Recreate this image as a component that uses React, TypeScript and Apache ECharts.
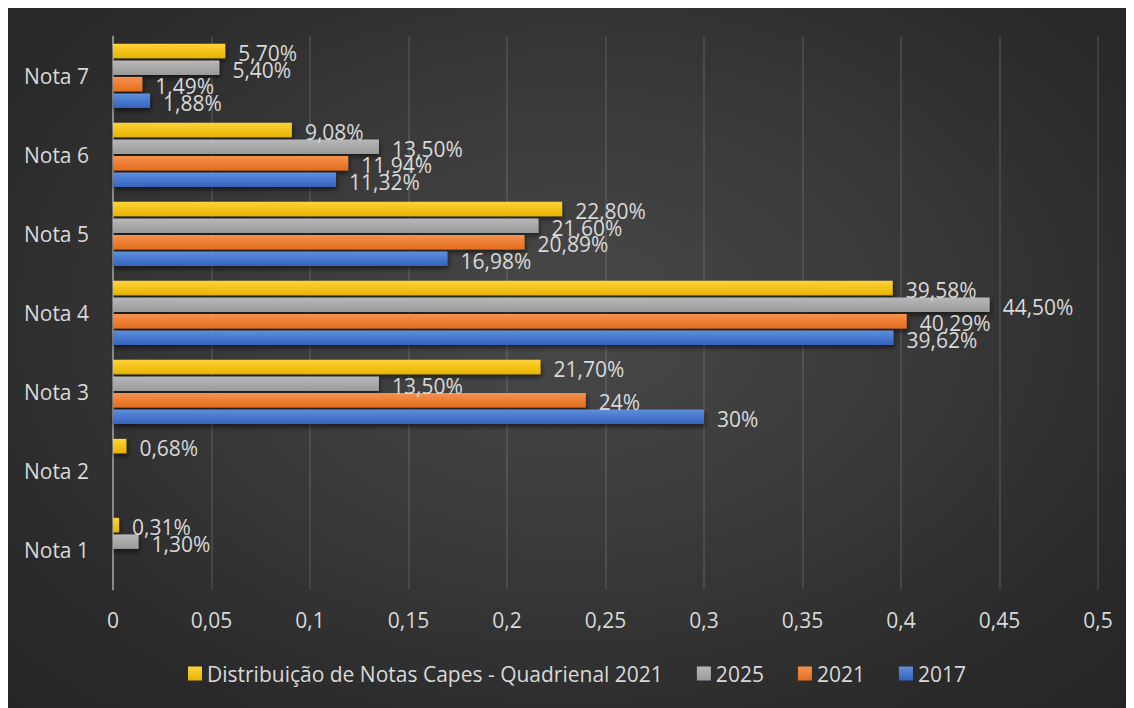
import React, { useEffect, useRef } from "react";
import * as echarts from "echarts";

const categories = ["Nota 1", "Nota 2", "Nota 3", "Nota 4", "Nota 5", "Nota 6", "Nota 7"];
const xTicks = [0, 0.05, 0.1, 0.15, 0.2, 0.25, 0.3, 0.35, 0.4, 0.45, 0.5];

const seriesNames = ["Distribuição de Notas Capes - Quadrienal 2021", "2025", "2021", "2017"];
const valuesDist = [0.0031, 0.0068, 0.217, 0.3958, 0.228, 0.0908, 0.057];
const values2025 = [0.013, null, 0.135, 0.445, 0.216, 0.135, 0.054];
const values2021 = [null, null, 0.24, 0.4029, 0.2089, 0.1194, 0.0149];
const values2017 = [null, null, 0.3, 0.3962, 0.1698, 0.1132, 0.0188];
// whether labels keep trailing zeros (fixed two decimals)
const fixedDecimals = [true, true, false, false];

const FONT = "'Open Sans', 'Noto Sans', sans-serif";
const TEXT = "#d9d9d9";
const FS = 21;

function grad(top: string, bottom: string) {
  return new echarts.graphic.LinearGradient(0, 0, 0, 1, [
    { offset: 0, color: top },
    { offset: 1, color: bottom },
  ]);
}

const colors = [
  ["#ffd23a", "#e6b400"],
  ["#b8b8b8", "#9a9a9a"],
  ["#f69250", "#e46d1e"],
  ["#5f8fdc", "#3462be"],
];

function fmtPct(v: number, fixed: boolean) {
  const p = v * 100;
  const s = fixed ? p.toFixed(2) : String(parseFloat(p.toFixed(2)));
  return s.replace(".", ",") + "%";
}

export default function App() {
  const ref = useRef<HTMLDivElement>(null);
  useEffect(() => {
    if (!ref.current) return;
    const chart = echarts.init(ref.current, undefined, { renderer: "svg" });
    const allValues = [valuesDist, values2025, values2021, values2017];
    chart.setOption({
      animation: false,
      backgroundColor: "transparent",
      textStyle: { fontFamily: FONT },
      grid: { left: 106, right: 36, top: 29.4, bottom: 118.6, outerBoundsMode: "none", containLabel: false },
      legend: {
        data: seriesNames,
        left: 176,
        top: 651,
        itemWidth: 14,
        itemHeight: 14,
        itemGap: 34,
        icon: "rect",
        textStyle: { color: TEXT, fontSize: FS, fontFamily: FONT },
      },
      xAxis: {
        type: "value",
        min: xTicks[0],
        max: xTicks[xTicks.length - 1],
        interval: 0.05,
        axisLine: { show: false },
        axisTick: { show: false },
        splitLine: { show: true, lineStyle: { color: "rgba(255,255,255,0.1)", width: 2 } },
        axisLabel: {
          color: TEXT,
          fontSize: FS,
          fontFamily: FONT,
          margin: 20,
          formatter: (v: number) => String(parseFloat(v.toFixed(2))).replace(".", ","),
        },
      },
      yAxis: {
        type: "category",
        data: categories,
        axisLine: { show: true, lineStyle: { color: "#8a8a8a", width: 2 } },
        axisTick: { show: false },
        axisLabel: { color: TEXT, fontSize: FS, fontFamily: FONT, margin: 24 },
      },
      series: seriesNames.map((name, i) => ({
        name,
        type: "bar",
        data: allValues[i],
        barWidth: 14.5,
        barGap: "14%",
        itemStyle: {
          color: grad(colors[i][0], colors[i][1]),
          shadowBlur: 5,
          shadowOffsetY: 3,
          shadowOffsetX: 1,
          shadowColor: "rgba(0,0,0,0.55)",
        },
        label: {
          show: true,
          position: "right",
          distance: 13,
          offset: [0, 2],
          color: TEXT,
          fontSize: FS,
          fontFamily: FONT,
          formatter: (p: any) => (p.value == null ? "" : fmtPct(p.value, fixedDecimals[i])),
        },
      })),
    });
    return () => chart.dispose();
  }, []);
  return (
    <div
      ref={ref}
      style={{
        width: 1127,
        height: 701,
        margin: "-1px 0 0 -1px",
        background: "radial-gradient(ellipse at 50% 45%, #494949 0%, #3a3a3a 40%, #2a2a2a 80%, #252525 100%)",
      }}
    />
  );
}
